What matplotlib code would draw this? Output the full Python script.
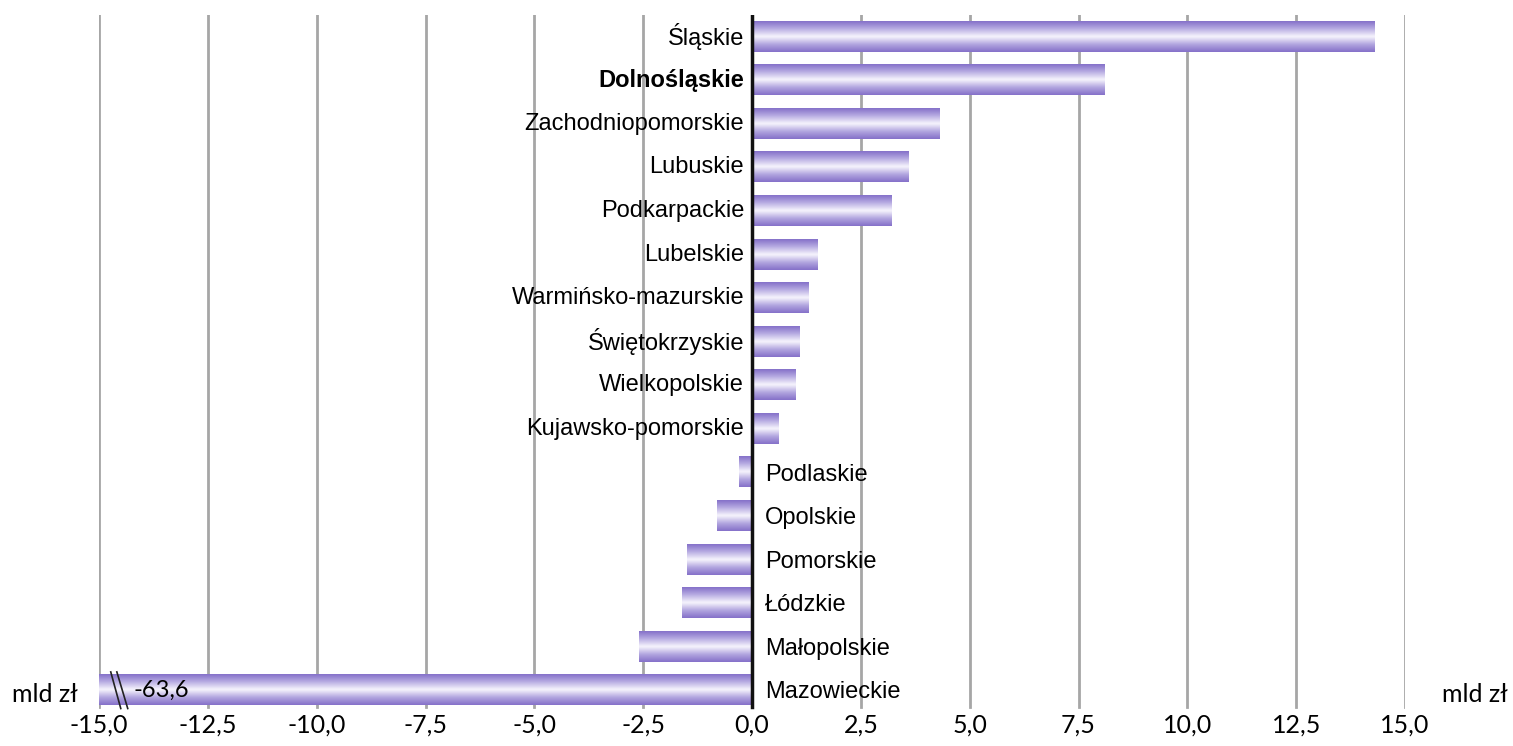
import numpy as np
import matplotlib.pyplot as plt
from matplotlib.colors import LinearSegmentedColormap

regiony = ['Śląskie', 'Dolnośląskie', 'Zachodniopomorskie', 'Lubuskie', 'Podkarpackie',
           'Lubelskie', 'Warmińsko-mazurskie', 'Świętokrzyskie', 'Wielkopolskie',
           'Kujawsko-pomorskie', 'Podlaskie', 'Opolskie', 'Pomorskie', 'Łódzkie',
           'Małopolskie', 'Mazowieckie']
wartosci = [14.3, 8.1, 4.3, 3.6, 3.2, 1.5, 1.3, 1.1, 1.0, 0.6,
            -0.3, -0.8, -1.5, -1.6, -2.6, -63.6]
ticks = np.arange(-15, 15.1, 2.5)
tick_labels = [f'{t:.1f}'.replace('.', ',') for t in ticks]

fig = plt.figure(figsize=(15.13, 7.46), dpi=100)
ax = fig.add_axes([99/1513, 1 - 712/746, (1405 - 99)/1513, (712 - 15)/746])

# gradient fioletowy -> biały -> fioletowy
cmap = LinearSegmentedColormap.from_list('fiolet', ['#8571c9', '#b9aee3', '#f7f5fd', '#b3a7e0', '#8571c9'])
grad = np.linspace(0, 1, 64).reshape(-1, 1)

y = np.arange(len(regiony))
bars = ax.barh(y, wartosci, height=0.69, color='none', zorder=2)
for b in bars:
    x0, y0 = b.get_x(), b.get_y()
    w, h = b.get_width(), b.get_height()
    ax.imshow(grad, cmap=cmap, aspect='auto', zorder=2,
              extent=[x0, x0 + w, y0 + h, y0], interpolation='bicubic')

ax.set_xlim(-15, 15)
ax.set_ylim(len(regiony) - 0.5, -0.5)

# siatka
for t in ticks:
    if t != 0:
        ax.axvline(t, ymin=0.007, color='#a6a6a6', lw=2, zorder=1)
ax.axvline(0, ymin=0.007, color='#111111', lw=2.5, zorder=3)

for s in ax.spines.values():
    s.set_visible(False)
ax.set_yticks([])
ax.set_xticks(ticks)
ax.set_xticklabels(tick_labels, family='Lato', fontsize=18)
ax.tick_params(axis='x', length=0, pad=1)

for i, (nazwa, v) in enumerate(zip(regiony, wartosci)):
    weight = 'bold' if nazwa == 'Dolnośląskie' else 'normal'
    if v >= 0:
        ax.text(-0.18, i, nazwa, ha='right', va='center', family=['Liberation Sans'],
                fontsize=17, fontweight=weight)
    else:
        ax.text(0.3, i + 0.05, nazwa, ha='left', va='center', family=['Liberation Sans'],
                fontsize=17, fontweight=weight)

# przerwa w słupku Mazowieckie
iy = len(regiony) - 1
ax.plot([-14.73, -14.50], [iy - 0.42, iy + 0.42], color='#222222', lw=1.2, zorder=4)
ax.plot([-14.59, -14.34], [iy - 0.42, iy + 0.42], color='#222222', lw=1.2, zorder=4)
ax.text(-14.2, iy, f'{wartosci[-1]:.1f}'.replace('.', ','), ha='left', va='center',
        family='Lato', fontsize=17, zorder=4)

fig.text(12/1513, 1 - 694/746, 'mld zł', ha='left', va='center', family='Lato', fontsize=18)
fig.text(1508/1513, 1 - 694/746, 'mld zł', ha='right', va='center', family='Lato', fontsize=18)

fig.savefig('out.png', dpi=100)
